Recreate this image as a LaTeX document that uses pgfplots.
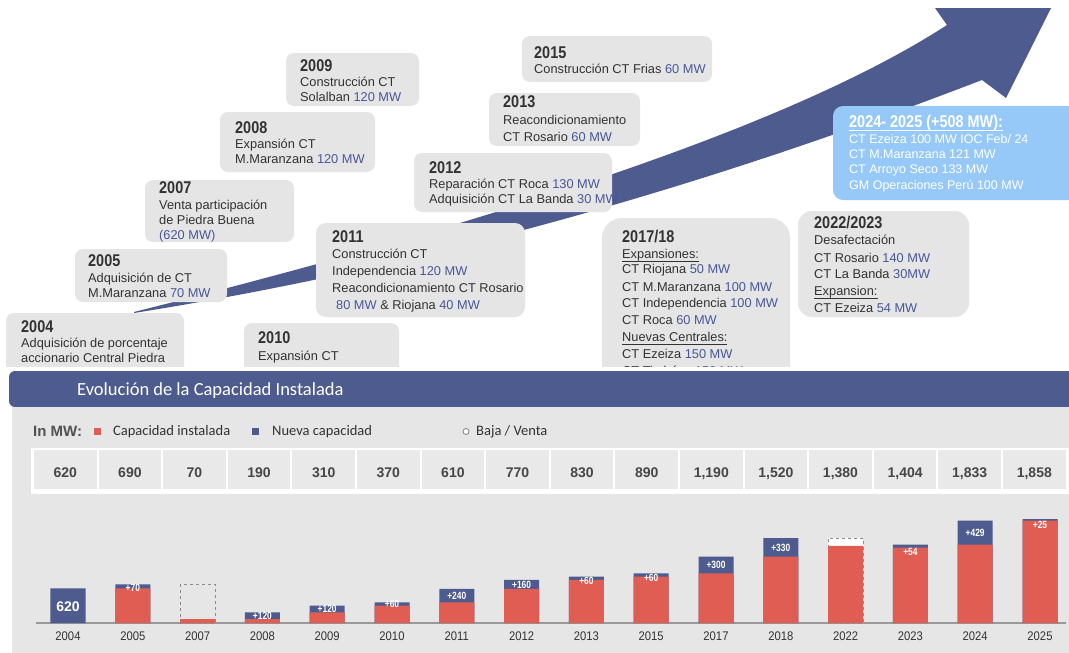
\documentclass[border=0pt]{standalone}
\usepackage{pgfplots}
\pgfplotsset{compat=1.18}
\usepackage{pgfplotstable}
\usepackage{fontspec}
\setmainfont{Liberation Sans}
\newfontfamily\headfam{Liberation Sans Bold}[FakeStretch=0.85]
\newfontfamily\lblfam{Liberation Sans Bold}[FakeStretch=0.8]
\newfontfamily\calfam{Carlito}
\newfontfamily\yearfam{Liberation Sans}[FakeStretch=0.9]
\definecolor{arrowblue}{RGB}{78,91,142}
\definecolor{barred}{RGB}{224,93,84}
\definecolor{boxgray}{RGB}{229,229,229}
\definecolor{panelgray}{RGB}{230,230,230}
\definecolor{cellgray}{RGB}{233,233,233}
\definecolor{txt}{RGB}{50,50,50}
\definecolor{mwblue}{RGB}{72,86,152}
\definecolor{lightblue}{RGB}{150,201,248}

\pgfplotstableread{
i y lbl
1 630 +70
3 125 +120
4 250 +120
5 340 +60
6 490 +240
7 690 +160
8 745 +60
9 800 +60
10 1040 +300
11 1350 +330
13 1275 +54
14 1615 +429
15 1760 +25
}\labeltable

\newcommand{\mw}[1]{\textcolor{mwblue}{#1}}
\newcommand{\ul}[1]{\underline{\smash{#1}\rule[-1.6pt]{0pt}{0pt}}}
\newcommand{\bodyfont}{\fontsize{12.8}{15}\selectfont\color{txt}}
\newcommand{\yr}[3]{\node[anchor=base west,inner sep=0,font=\headfam\fontsize{17}{17}\selectfont,text=txt] at (#1,#2) {#3};}
\newcommand{\tx}[3]{\node[anchor=base west,inner sep=0,font=\bodyfont] at (#1,#2) {#3};}

\begin{document}
\begin{tikzpicture}[x=1pt,y=-1pt]
\useasboundingbox (0,0) rectangle (1069,653);
\fill[white] (0,0) rectangle (1069,653);

% growth arrow
\fill[arrowblue] (134,312) .. controls (420,240) and (770,140) .. (947,25)
  -- (935,8) -- (1051,8) -- (1006,98) -- (982,80)
  .. controls (800,150) and (500,255) .. (134,313) -- cycle;

% upper boxes
\fill[boxgray, rounded corners=8] (286,53) rectangle (419,106);
\yr{300}{71}{2009}
\tx{300}{86}{Construcción CT}
\tx{300}{101}{Solalban \mw{120 MW}}

\fill[boxgray, rounded corners=8] (220,112) rectangle (375,172);
\yr{235}{133}{2008}
\tx{235}{148}{Expansión CT}
\tx{235}{163}{M.Maranzana \mw{120 MW}}

\fill[boxgray, rounded corners=8] (145,180) rectangle (294,242);
\yr{159}{193}{2007}
\tx{159}{209}{Venta participación}
\tx{159}{224}{de Piedra Buena}
\tx{159}{239}{\mw{(620 MW)}}

\fill[boxgray, rounded corners=8] (75,249) rectangle (227,302);
\yr{88}{266}{2005}
\tx{88}{282}{Adquisición de CT}
\tx{88}{297}{M.Maranzana \mw{70 MW}}

\fill[boxgray, rounded corners=10] (316,223) rectangle (525,317);
\yr{332}{242}{2011}
\tx{332}{258}{Construcción CT}
\tx{332}{275}{Independencia \mw{120 MW}}
\tx{332}{292}{Reacondicionamiento CT Rosario}
\tx{336}{309}{\mw{80 MW} \& Riojana \mw{40 MW}}

\fill[boxgray, rounded corners=8] (414,153) rectangle (612,212);
\yr{429}{173}{2012}
\tx{429}{188}{Reparación CT Roca \mw{130 MW}}
\tx{429}{203}{Adquisición CT La Banda \mw{30 MW}}

\fill[boxgray, rounded corners=8] (489,93) rectangle (640,146);
\yr{503}{107}{2013}
\tx{503}{124}{Reacondicionamiento}
\tx{503}{141}{CT Rosario \mw{60 MW}}

\fill[boxgray, rounded corners=8] (522,36) rectangle (712,82);
\yr{534}{58}{2015}
\tx{534}{73}{Construcción CT Frias \mw{60 MW}}

\fill[boxgray, rounded corners=14] (798,211) rectangle (969,317);
\yr{814}{228}{2022/2023}
\tx{814}{244}{Desafectación}
\tx{814}{262}{CT Rosario \mw{140 MW}}
\tx{814}{278}{CT La Banda \mw{30MW}}
\tx{814}{295}{\ul{Expansion:}}
\tx{814}{312}{CT Ezeiza \mw{54 MW}}

\fill[lightblue, rounded corners=10] (833,106) rectangle (1090,200);
\node[anchor=base west,inner sep=0,font=\headfam\fontsize{17}{17}\selectfont,text=white] at (849,127) {\ul{2024- 2025 (+508 MW):}};
\node[anchor=base west,inner sep=0,font=\fontsize{12.5}{14}\selectfont,text=white] at (849,143) {CT Ezeiza 100 MW IOC Feb/ 24};
\node[anchor=base west,inner sep=0,font=\fontsize{12.5}{14}\selectfont,text=white] at (849,158) {CT M.Maranzana 121 MW};
\node[anchor=base west,inner sep=0,font=\fontsize{12.5}{14}\selectfont,text=white] at (849,173) {CT Arroyo Seco 133 MW};
\node[anchor=base west,inner sep=0,font=\fontsize{12.5}{14}\selectfont,text=white] at (849,189) {GM Operaciones Perú 100 MW};

% boxes cut by the chart header
\begin{scope}
\clip (0,0) rectangle (1069,366);
\fill[boxgray, rounded corners=8] (6,313) rectangle (184,390);
\yr{21}{332}{2004}
\tx{21}{347}{Adquisición de porcentaje}
\tx{21}{362}{accionario Central Piedra}
\tx{21}{377}{Buena \mw{620 MW}}

\fill[boxgray, rounded corners=8] (244,323) rectangle (399,390);
\yr{258}{343}{2010}
\tx{258}{360}{Expansión CT}
\tx{258}{377}{M.Maranzana \mw{60 MW}}

\fill[boxgray, rounded corners=20] (602,218) rectangle (790,400);
\yr{622}{242}{2017/18}
\tx{622}{258}{\ul{Expansiones:}}
\tx{622}{273}{CT Riojana \mw{50 MW}}
\tx{622}{291}{CT M.Maranzana \mw{100 MW}}
\tx{622}{307}{CT Independencia \mw{100 MW}}
\tx{622}{324}{CT Roca \mw{60 MW}}
\tx{622}{341}{\ul{Nuevas Centrales:}}
\tx{622}{358}{CT Ezeiza \mw{150 MW}}
\tx{622}{375}{CT Timbúes \mw{150 MW}}
\end{scope}

% chart header and panel
\fill[arrowblue, rounded corners=6] (9,371) rectangle (1090,407);
\fill[panelgray] (12,407) rectangle (1090,660);
\node[anchor=base west,inner sep=0,font=\calfam\fontsize{18.5}{20}\selectfont,text=white] at (77,395) {Evolución de la Capacidad Instalada};

% legend
\node[anchor=base west,inner sep=0,font=\bfseries\fontsize{15}{15}\selectfont,text=txt!85] at (33,436) {In MW:};
\fill[barred] (94,428) rectangle (101,435);
\node[anchor=base west,inner sep=0,font=\calfam\fontsize{14.5}{15}\selectfont,text=txt] at (113,435) {Capacidad instalada};
\fill[arrowblue] (252,428) rectangle (259,435);
\node[anchor=base west,inner sep=0,font=\calfam\fontsize{14.5}{15}\selectfont,text=txt] at (272,435) {Nueva capacidad};
\draw[gray, fill=white, line width=0.8pt] (466,431.5) circle (3);
\node[anchor=base west,inner sep=0,font=\calfam\fontsize{14.5}{15}\selectfont,text=txt] at (476,435) {Baja / Venta};

% totals table
\fill[white] (31,448) rectangle (1069,494);
\foreach \i in {0,...,15} {
  \fill[cellgray] ({33+64.6*\i+1},450) rectangle ({33+64.6*(\i+1)-1},489);
}
\foreach \v [count=\j from 0] in {620,690,70,190,310,370,610,770,830,890,{1,190},{1,520},{1,380},{1,404},{1,833},{1,858}} {
  \node[anchor=base,inner sep=0,font=\bfseries\fontsize{14}{14}\selectfont,text=txt!90] at ({65.3+64.6*\j},477) {\v};
}

\begin{axis}[
  at={(35.6pt,-623pt)}, anchor=south west, scale only axis,
  width=1030.3pt, height=130pt,
  xmin=-0.5, xmax=15.4, ymin=0, ymax=2327,
  axis y line=none, axis x line*=bottom,
  x axis line style={draw=black!40, line width=1.6pt, -},
  xtick={0,...,15},
  xticklabels={2004,2005,2007,2008,2009,2010,2011,2012,2013,2015,2017,2018,2022,2023,2024,2025},
  major tick length=0pt,
  xticklabel style={font=\yearfam\fontsize{12.5}{12.5}\selectfont, text=txt, yshift=-5pt},
  ybar, bar width=35pt, bar shift=0pt,
  clip=false,
]
% Baja / Venta boxes
\addplot[fill=none, draw=black!45, dashed, line width=1pt] coordinates {(2,690)};
\addplot[fill=white, draw=black!45, dashed, line width=1pt] coordinates {(12,1520)};
% new capacity (total height)
\addplot[fill=arrowblue, draw=none] coordinates {
  (0,620) (1,690) (3,190) (4,310) (5,370) (6,610) (7,770) (8,830)
  (9,890) (10,1190) (11,1520) (13,1404) (14,1833) (15,1858)};
% installed capacity
\addplot[fill=barred, draw=none] coordinates {
  (1,620) (2,70) (3,70) (4,190) (5,310) (6,370) (7,610) (8,770)
  (9,830) (10,890) (11,1190) (12,1380) (13,1350) (14,1404) (15,1833)};
% labels
\addplot[draw=none, fill=none, nodes near coords, nodes near coords align={center},
  point meta=explicit symbolic,
  every node near coord/.append style={anchor=center, inner sep=0pt, text=white, font=\lblfam\fontsize{10.5}{10.5}\selectfont}]
  table[x=i, y=y, meta=lbl] {\labeltable};
\addplot[draw=none, fill=none, nodes near coords, nodes near coords align={center},
  point meta=explicit symbolic,
  every node near coord/.append style={anchor=center, inner sep=0pt, text=white, font=\bfseries\fontsize{14}{14}\selectfont}]
  coordinates {(0,290) [620]};
\end{axis}
\end{tikzpicture}
\end{document}
